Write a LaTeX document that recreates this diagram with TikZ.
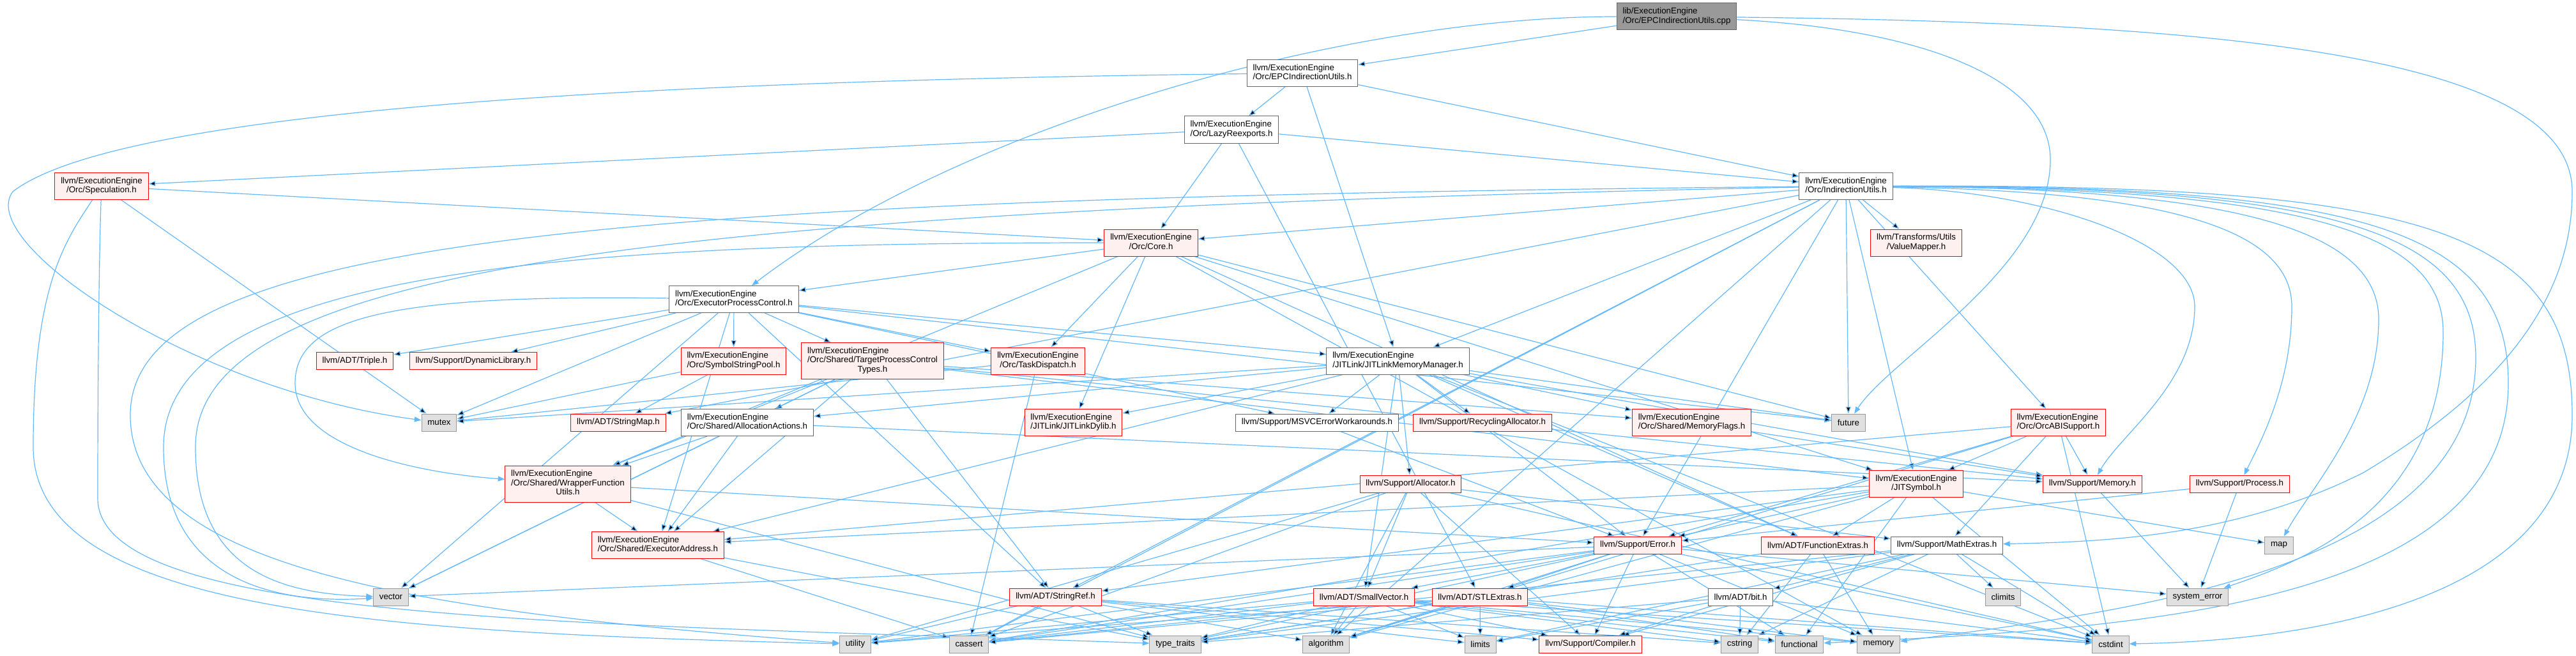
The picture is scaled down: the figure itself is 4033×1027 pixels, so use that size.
\documentclass[tikz,border=0pt]{standalone}
\usepackage{fontspec}
\newfontfamily\doxfont{Liberation Sans}
\usetikzlibrary{arrows.meta}
\definecolor{dxedge}{HTML}{63B8FF}
\definecolor{dxred}{HTML}{FF0000}
\definecolor{dxpink}{HTML}{FFF0F0}
\definecolor{dxsys}{HTML}{E0E0E0}
\definecolor{dxgrey}{HTML}{999999}
\definecolor{dxdark}{HTML}{666666}
\pgfdeclarelayer{edges}
\pgfsetlayers{edges,main}
\newcommand{\twol}[2]{\begin{tabular}{@{}l@{}}#1\\\multicolumn{1}{@{}c@{}}{#2}\end{tabular}}
\newcommand{\threel}[3]{\begin{tabular}{@{}l@{}}#1\\#2\\\multicolumn{1}{@{}c@{}}{#3}\end{tabular}}

\begin{document}
\begin{tikzpicture}[x=0.75pt,y=-0.75pt,
  hdr/.style={rectangle, draw, line width=0.75pt, inner xsep=7pt, inner ysep=0pt,
    minimum height=20.25pt, font=\doxfont\fontsize{10}{10.8}\selectfont},
  twolines/.style={minimum height=31.5pt},
  threelines/.style={minimum height=42.75pt},
  hdrroot/.style={hdr, draw=dxdark, fill=dxgrey},
  hdrwhite/.style={hdr, draw=dxdark, fill=white},
  hdrred/.style={hdr, draw=dxred, fill=dxpink},
  hdrsys/.style={hdr, draw=dxgrey, fill=dxsys},
  dep/.style={draw=dxedge, line width=0.9pt, -{Triangle[length=8pt,width=6pt]}}]
  \useasboundingbox (0,0) rectangle (4033,1027);

  % the .cpp file
  \node[hdrroot, twolines] (root) at (2625,26) {\twol{lib/ExecutionEngine}{/Orc/EPCIndirectionUtils.cpp}};
  % Orc headers, upper part
  \node[hdrwhite, twolines] (epcih) at (2039,114.5) {\twol{llvm/ExecutionEngine}{/Orc/EPCIndirectionUtils.h}};
  \node[hdrwhite, twolines] (lazy) at (1928,203) {\twol{llvm/ExecutionEngine}{/Orc/LazyReexports.h}};
  \node[hdrred, twolines] (spec) at (159,291.5) {\twol{llvm/ExecutionEngine}{/Orc/Speculation.h}};
  \node[hdrwhite, twolines] (indir) at (2890,291.5) {\twol{llvm/ExecutionEngine}{/Orc/IndirectionUtils.h}};
  \node[hdrred, twolines] (core) at (1802,380) {\twol{llvm/ExecutionEngine}{/Orc/Core.h}};
  \node[hdrred, twolines] (valmap) at (3000,380) {\twol{llvm/Transforms/Utils}{/ValueMapper.h}};
  \node[hdrwhite, twolines] (epc) at (1149,468.5) {\twol{llvm/ExecutionEngine}{/Orc/ExecutorProcessControl.h}};
  % row below ExecutorProcessControl.h
  \node[hdrred] (triple) at (555.5,565) {llvm/ADT/Triple.h};
  \node[hdrred] (dynlib) at (741,565) {llvm/Support/DynamicLibrary.h};
  \node[hdrred, twolines] (ssp) at (1148.5,565) {\twol{llvm/ExecutionEngine}{/Orc/SymbolStringPool.h}};
  \node[hdrred, threelines] (tpct) at (1366,565) {\threel{llvm/ExecutionEngine}{/Orc/Shared/TargetProcessControl}{Types.h}};
  \node[hdrred, twolines] (taskd) at (1625,565) {\twol{llvm/ExecutionEngine}{/Orc/TaskDispatch.h}};
  \node[hdrwhite, twolines] (jlmm) at (2188.5,565) {\twol{llvm/ExecutionEngine}{/JITLink/JITLinkMemoryManager.h}};
  % middle row
  \node[hdrsys] (mutex) at (687.5,661.5) {mutex};
  \node[hdrred] (strmap) at (968,661.5) {llvm/ADT/StringMap.h};
  \node[hdrwhite, twolines] (allocact) at (1170,661.5) {\twol{llvm/ExecutionEngine}{/Orc/Shared/AllocationActions.h}};
  \node[hdrred, twolines] (jldylib) at (1680.5,661.5) {\twol{llvm/ExecutionEngine}{/JITLink/JITLinkDylib.h}};
  \node[hdrwhite] (msvc) at (2062,661.5) {llvm/Support/MSVCErrorWorkarounds.h};
  \node[hdrred] (recalloc) at (2321,661.5) {llvm/Support/RecyclingAllocator.h};
  \node[hdrred, twolines] (memflags) at (2648.5,661.5) {\twol{llvm/ExecutionEngine}{/Orc/Shared/MemoryFlags.h}};
  \node[hdrsys] (future) at (2894,661.5) {future};
  \node[hdrred, twolines] (orcabi) at (3222.5,661.5) {\twol{llvm/ExecutionEngine}{/Orc/OrcABISupport.h}};
  % support headers
  \node[hdrred, threelines] (wrapper) at (889,757.5) {\threel{llvm/ExecutionEngine}{/Orc/Shared/WrapperFunction}{Utils.h}};
  \node[hdrred] (allocator) at (2208.5,757.5) {llvm/Support/Allocator.h};
  \node[hdrred, twolines] (jitsym) at (3000,757.5) {\twol{llvm/ExecutionEngine}{/JITSymbol.h}};
  \node[hdrred] (memory) at (3276,757.5) {llvm/Support/Memory.h};
  \node[hdrred] (process) at (3506.5,757.5) {llvm/Support/Process.h};
  \node[hdrred, twolines] (execaddr) at (1030,853.5) {\twol{llvm/ExecutionEngine}{/Orc/Shared/ExecutorAddress.h}};
  \node[hdrred] (error) at (2564,853.5) {llvm/Support/Error.h};
  \node[hdrred] (funcext) at (2846,853.5) {llvm/ADT/FunctionExtras.h};
  \node[hdrwhite] (mathext) at (3048,853.5) {llvm/Support/MathExtras.h};
  \node[hdrsys] (map) at (3568,853.5) {map};
  % ADT headers
  \node[hdrsys] (vector) at (612,934.5) {vector};
  \node[hdrred] (strref) at (1652.5,934.5) {llvm/ADT/StringRef.h};
  \node[hdrred] (smallvec) at (2135.5,934.5) {llvm/ADT/SmallVector.h};
  \node[hdrred] (stlext) at (2317,934.5) {llvm/ADT/STLExtras.h};
  \node[hdrwhite] (bit) at (2725,934.5) {llvm/ADT/bit.h};
  \node[hdrsys] (climits) at (3136,934.5) {climits};
  \node[hdrsys] (syserr) at (3440.5,934.5) {system\_error};
  % standard headers, bottom row
  \node[hdrsys] (utility) at (1339,1008.5) {utility};
  \node[hdrsys] (cassert) at (1517,1008.5) {cassert};
  \node[hdrsys] (typetr) at (1840,1008.5) {type\_traits};
  \node[hdrsys] (algo) at (2076,1008.5) {algorithm};
  \node[hdrsys] (limits) at (2317.5,1008.5) {limits};
  \node[hdrred] (compiler) at (2490,1008.5) {llvm/Support/Compiler.h};
  \node[hdrsys] (cstring) at (2723.5,1008.5) {cstring};
  \node[hdrsys] (functional) at (2817,1008.5) {functional};
  \node[hdrsys] (stdmemory) at (2941,1008.5) {memory};
  \node[hdrsys] (cstdint) at (3304.5,1008.5) {cstdint};

  \begin{pgfonlayer}{edges}
  % from the .cpp file
  \path[dep] (root) edge (epcih);
  \draw[dep] (root) .. controls (2100,26) and (1500,200) .. (epc);
  \draw[dep] (root) .. controls (3000,45) and (3210,120) .. (3210,250)
    .. controls (3210,420) and (2960,560) .. (future);
  \draw[dep] (root) .. controls (3500,35) and (4027,90) .. (4027,300)
    .. controls (4027,480) and (3900,620) .. (3700,740)
    .. controls (3500,840) and (3300,848) .. (mathext);
  % Orc headers
  \path[dep] (epcih) edge (lazy) edge (indir) edge (jlmm);
  \draw[dep] (epcih) .. controls (700,130) and (150,200) .. (20,300)
    .. controls (-40,380) and (300,610) .. (mutex);
  \path[dep] (lazy) edge (spec) edge (core) edge (indir) edge (stlext);
  \path[dep] (spec) edge (core) edge (mutex);
  \draw[dep] (spec) .. controls (100,380) and (52,450) .. (52,700)
    .. controls (52,960) and (600,990) .. (utility);
  \draw[dep] (spec) .. controls (155,400) and (153,600) .. (153,780)
    .. controls (153,975) and (900,975) .. (typetr);
  \path[dep] (indir) edge (valmap) edge (core) edge (strmap) edge (strref) edge (jlmm)
    edge (jitsym) edge (orcabi) edge (error) edge (algo) edge (cassert) edge (future);
  % IndirectionUtils.h, arcs round the right side
  \draw[dep] (indir) .. controls (3200,300) and (3436,380) .. (3436,480)
    .. controls (3436,600) and (3320,680) .. (memory);
  \draw[dep] (indir) .. controls (3400,300) and (3588,360) .. (3588,480)
    .. controls (3588,600) and (3540,690) .. (process);
  \draw[dep] (indir) .. controls (3500,295) and (3724,360) .. (3724,500)
    .. controls (3724,650) and (3620,760) .. (map);
  \draw[dep] (indir) .. controls (3600,295) and (3825,360) .. (3825,520)
    .. controls (3825,800) and (3600,880) .. (syserr);
  \draw[dep] (indir) .. controls (3650,292) and (3876,360) .. (3876,560)
    .. controls (3876,900) and (3300,960) .. (stdmemory);
  \draw[dep] (indir) .. controls (3700,290) and (3927,360) .. (3927,600)
    .. controls (3927,960) and (3300,985) .. (functional);
  \draw[dep] (indir) .. controls (3800,288) and (4027,360) .. (4027,650)
    .. controls (4027,980) and (3500,1005) .. (cstdint);
  % IndirectionUtils.h and Core.h, arcs round the left side
  \draw[dep] (indir) .. controls (900,310) and (204,380) .. (204,650)
    .. controls (204,900) and (700,960) .. (utility);
  \draw[dep] (indir) .. controls (1000,330) and (306,420) .. (306,700)
    .. controls (306,900) and (450,930) .. (vector);
  \draw[dep] (core) .. controls (900,380) and (256,420) .. (256,700)
    .. controls (256,920) and (450,945) .. (vector);
  \path[dep] (core) edge (epc) edge (taskd) edge (jldylib) edge (jitsym) edge (funcext)
    edge (wrapper) edge (future) edge (stdmemory);
  \path[dep] (epc) edge (triple) edge (dynlib) edge (ssp) edge (tpct) edge (taskd)
    edge (jlmm) edge (msvc) edge (execaddr) edge (strref) edge (future)
    edge (mutex) edge (vector);
  \draw[dep] (epc) .. controls (600,460) and (462,500) .. (462,600)
    .. controls (462,700) and (650,740) .. (wrapper);
  \path[dep] (ssp) edge (strmap) edge (mutex);
  \path[dep] (tpct) edge (allocact) edge (strref) edge (jitsym) edge (execaddr)
    edge (memflags) edge (wrapper) edge (memory) edge (vector);
  \path[dep] (taskd) edge (mutex) edge (cassert);
  \path[dep] (jlmm) edge (jldylib) edge (msvc) edge (recalloc) edge (memflags)
    edge (allocact) edge (allocator) edge (funcext) edge (smallvec) edge (execaddr)
    edge (error) edge (memory) edge (cstdint) edge (future) edge (mutex);
  \path[dep] (allocact) edge (wrapper) edge (execaddr) edge (memory) edge (vector);
  \path[dep] (msvc) edge (error);
  \path[dep] (memflags) edge (memory);
  \path[dep] (orcabi) edge (jitsym) edge (mathext) edge (error) edge (execaddr)
    edge (memory) edge (algo) edge (cstdint);
  \path[dep] (wrapper) edge (execaddr) edge (error) edge (typetr);
  \path[dep] (execaddr) edge (cassert) edge (typetr);
  % Support and ADT headers
  \path[dep] (allocator) edge (smallvec) edge (compiler) edge (mathext) edge (algo)
    edge (cassert) edge (cstdint) edge (utility);
  \path[dep] (error) edge (stlext) edge (smallvec) edge (compiler) edge (algo)
    edge (cassert) edge (cstdint) edge (functional) edge (stdmemory) edge (syserr)
    edge (typetr) edge (utility) edge (vector);
  \path[dep] (jitsym) edge (funcext) edge (strref) edge (execaddr) edge (error)
    edge (algo) edge (cassert) edge (cstdint) edge (functional) edge (map);
  \path[dep] (memory) edge (syserr);
  \path[dep] (process) edge (error) edge (syserr);
  \path[dep] (funcext) edge (cstring) edge (stdmemory) edge (typetr);
  \path[dep] (mathext) edge (bit) edge (compiler) edge (cassert) edge (climits)
    edge (cstdint) edge (cstring) edge (limits) edge (typetr);
  \path[dep] (strref) edge (compiler) edge (algo) edge (cassert) edge (cstring)
    edge (limits) edge (typetr) edge (utility);
  \path[dep] (smallvec) edge (compiler) edge (algo) edge (cassert) edge (cstdint)
    edge (cstring) edge (functional) edge (limits) edge (stdmemory) edge (typetr)
    edge (utility);
  \path[dep] (stlext) edge (algo) edge (cassert) edge (cstdint) edge (functional)
    edge (limits) edge (stdmemory) edge (typetr) edge (utility);
  \path[dep] (bit) edge (compiler) edge (cstdint) edge (cstring) edge (limits)
    edge (typetr);
  \end{pgfonlayer}
\end{tikzpicture}
\end{document}
